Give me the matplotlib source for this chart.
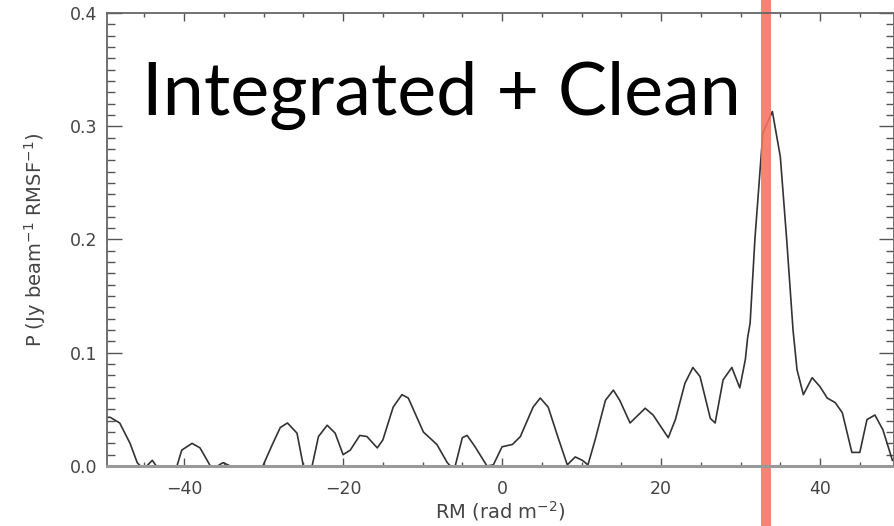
import matplotlib.pyplot as plt
from matplotlib.ticker import MultipleLocator

# Faraday spectrum
rm = [-49.7, -49.3, -48.1, -46.8, -45.9, -45.5, -44.7, -44.0, -43.5, -40.9,
      -40.3, -39.0, -38.0, -37.1, -36.7, -35.8, -35.1, -34.2, -30.1, -28.9,
      -27.9, -27.0, -25.8, -25.0, -23.9, -23.1, -22.0, -21.0, -20.0, -19.1,
      -17.9, -17.0, -15.7, -15.0, -13.7, -12.6, -11.8, -9.9, -8.2, -6.9,
      -6.5, -5.9, -5.0, -4.4, -3.4, -1.9, -1.1, 0.0, 1.3, 2.3,
      3.9, 4.8, 5.8, 7.0, 8.2, 9.2, 10.1, 10.8, 11.7, 13.0,
      14.0, 14.8, 16.1, 18.0, 19.0, 20.9, 21.8, 23.0, 24.0, 24.9,
      26.2, 26.8, 27.8, 28.9, 29.9, 30.6, 30.9, 31.2, 31.8, 32.8,
      34.0, 35.0, 35.8, 36.6, 37.1, 37.9, 39.0, 40.0, 40.9, 41.9,
      42.8, 44.0, 45.0, 45.9, 46.9, 47.9, 49.1]
p = [0.043, 0.043, 0.038, 0.020, 0.003, 0.0, 0.0, 0.005, 0.0, 0.0,
     0.014, 0.020, 0.016, 0.005, 0.0, 0.0, 0.003, 0.0, 0.0, 0.019,
     0.034, 0.038, 0.029, 0.0, 0.0, 0.026, 0.036, 0.029, 0.010, 0.014,
     0.027, 0.026, 0.016, 0.023, 0.052, 0.063, 0.060, 0.030, 0.019, 0.003,
     0.0, 0.0, 0.025, 0.027, 0.017, 0.0, 0.001, 0.017, 0.019, 0.026,
     0.052, 0.060, 0.052, 0.026, 0.001, 0.008, 0.005, 0.001, 0.023, 0.058,
     0.067, 0.058, 0.038, 0.051, 0.045, 0.025, 0.041, 0.073, 0.087, 0.079,
     0.042, 0.038, 0.076, 0.087, 0.069, 0.094, 0.114, 0.126, 0.200, 0.294,
     0.313, 0.273, 0.200, 0.120, 0.085, 0.063, 0.078, 0.070, 0.060, 0.056,
     0.047, 0.012, 0.012, 0.041, 0.045, 0.032, 0.005]
rm_marker = 33.2

fig = plt.figure(figsize=(8.95, 5.26), dpi=100)
ax = fig.add_axes([107 / 895, 60 / 526, 787 / 895, 453 / 526])

ax.plot(rm, p, color='#333333', lw=1.2)
ax.set_xlim(-49.7, 49.3)
ax.set_ylim(0, 0.4)

ax.xaxis.set_major_locator(MultipleLocator(20))
ax.xaxis.set_minor_locator(MultipleLocator(5))
ax.yaxis.set_major_locator(MultipleLocator(0.1))
ax.yaxis.set_minor_locator(MultipleLocator(0.01))
ax.yaxis.set_major_formatter(lambda v, pos: f'{v:.1f}')
ax.xaxis.set_major_formatter(lambda v, pos: f'{v:.0f}'.replace('-', '\u2212'))

ax.tick_params(axis='both', which='both', direction='in', top=True, right=True,
               colors='#555555', labelcolor='#444444', labelsize=12.5, width=1)
ax.tick_params(axis='x', which='major', length=6, pad=10)
ax.tick_params(axis='x', which='minor', length=3)
ax.tick_params(axis='y', which='major', length=11, pad=7)
ax.tick_params(axis='y', which='minor', length=6)
for lbl in ax.get_xticklabels() + ax.get_yticklabels():
    lbl.set_fontweight('medium')

for s in ax.spines.values():
    s.set_color('#666666')
    s.set_linewidth(1.3)
ax.spines['bottom'].set_color('#999999')
ax.spines['bottom'].set_linewidth(2.2)

ax.set_xlabel('RM (rad m$^{-2}$)', fontsize=14, color='#444444', labelpad=1)
ax.set_ylabel('P (Jy beam$^{-1}$ RMSF$^{-1}$)', fontsize=14, color='#444444', labelpad=16)

# red marker line running over the full height of the picture
ax.axvline(rm_marker, ymin=-0.14, ymax=1.05, clip_on=False,
           color='#F47460', alpha=0.88, lw=7.2)

fig.text(142 / 895, 1 - 115 / 526, 'Integrated + Clean', fontsize=53,
         family='Lato', color='black', ha='left', va='baseline')

fig.savefig('out.png', dpi=100)
